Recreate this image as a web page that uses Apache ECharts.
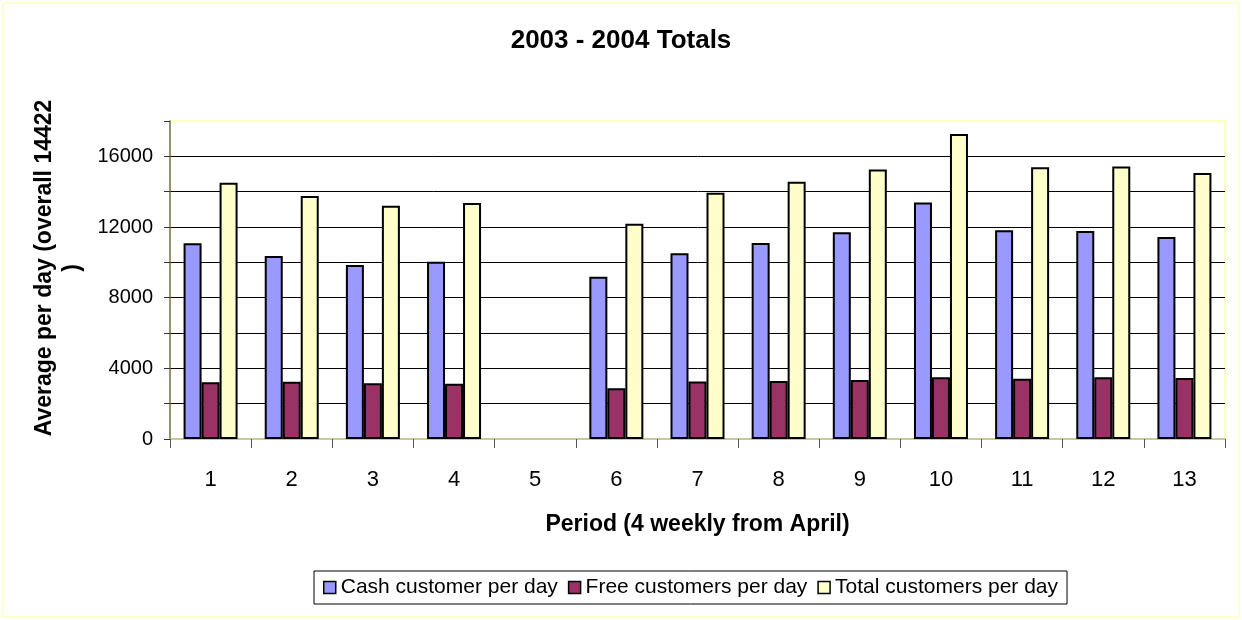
<!DOCTYPE html>
<html>
<head>
<meta charset="utf-8">
<script src="https://cdn.jsdelivr.net/npm/echarts@6/dist/echarts.min.js"></script>
<style>
  html, body { margin: 0; padding: 0; background: #fff; }
  #chart { width: 1242px; height: 620px; }
</style>
</head>
<body>
<div id="chart"></div>
<script>
// periods (4 weekly from April); period 5 has no data
const periods = ['1', '2', '3', '4', '5', '6', '7', '8', '9', '10', '11', '12', '13']
const cashPerDay = [11080, 10360, 9850, 10040, '-', 9190, 10510, 11090, 11700, 13390, 11810, 11770, 11430]
const freePerDay = [3210, 3240, 3150, 3130, '-', 2870, 3250, 3280, 3340, 3490, 3410, 3490, 3450]
const totalPerDay = [14500, 13750, 13200, 13360, '-', 12190, 13940, 14560, 15260, 17260, 15380, 15430, 15050]

const seriesNames = ['Cash customer per day', 'Free customers per day', 'Total customers per day']
const seriesColors = ['#9999ff', '#993366', '#ffffcc']

const font = 'Liberation Sans, Arial, sans-serif'

function barSeries(name, data, color) {
  return {
    name,
    type: 'bar',
    data,
    barWidth: 18,
    barGap: '0%',
    itemStyle: { color, borderColor: '#000', borderWidth: 2 },
  }
}

const chart = echarts.init(document.getElementById('chart'), null, { renderer: 'canvas' })

chart.setOption({
  backgroundColor: '#fff',
  animation: false,
  graphic: [
    {
      type: 'rect',
      shape: { x: 3, y: 3, width: 1236, height: 614 },
      style: { fill: 'none', stroke: '#ffffcc', lineWidth: 2 },
      z: -1,
    },
  ],
  title: {
    text: '2003 - 2004 Totals',
    left: 'center',
    top: 28,
    padding: 0,
    textStyle: { fontFamily: font, fontSize: 26, fontWeight: 'bold', color: '#000' },
  },
  legend: {
    left: 314,
    top: 571,
    padding: [6, 9],
    itemGap: 10,
    itemWidth: 12,
    itemHeight: 12,
    borderColor: '#000',
    borderWidth: 1,
    textStyle: { fontFamily: font, fontSize: 21, color: '#000' },
    data: seriesNames.map((n, i) => ({
      name: n,
      icon: 'rect',
      itemStyle: { color: seriesColors[i], borderColor: '#000', borderWidth: 1.5 },
    })),
  },
  grid: {
    left: 170,
    right: 17,
    top: 121,
    bottom: 181,
    show: true,
    borderColor: '#ffffc0',
    borderWidth: 2,
  },
  xAxis: {
    type: 'category',
    data: periods,
    name: 'Period (4 weekly from April)',
    nameLocation: 'middle',
    nameGap: 74,
    nameTextStyle: { fontFamily: font, fontSize: 23, fontWeight: 'bold', color: '#000' },
    axisLine: { lineStyle: { color: '#b8b880', width: 1.5 } },
    axisTick: { show: true, interval: 0, length: 9, lineStyle: { color: '#555' } },
    axisLabel: { fontFamily: font, fontSize: 22, color: '#000', margin: 30, interval: 0 },
  },
  yAxis: {
    type: 'value',
    min: 0,
    max: 18000,
    interval: 2000,
    name: 'Average per day (overall 14422\n)',
    nameLocation: 'middle',
    nameGap: 83,
    nameTextStyle: {
      fontFamily: font, fontSize: 23, fontWeight: 'bold', color: '#000',
      lineHeight: 28, padding: [0, 0, 0, 24],
    },
    axisLine: { show: true, lineStyle: { color: '#707050', width: 1.5 } },
    axisTick: { show: true, length: 6, lineStyle: { color: '#333' } },
    axisLabel: {
      fontFamily: font, fontSize: 20, color: '#000', margin: 17,
      formatter: v => (v % 4000 === 0 ? String(v) : ''),
    },
    splitLine: { show: true, showMinLine: false, showMaxLine: false, lineStyle: { color: '#000', width: 1 } },
  },
  series: [
    barSeries(seriesNames[0], cashPerDay, seriesColors[0]),
    barSeries(seriesNames[1], freePerDay, seriesColors[1]),
    barSeries(seriesNames[2], totalPerDay, seriesColors[2]),
  ],
})
</script>
</body>
</html>
